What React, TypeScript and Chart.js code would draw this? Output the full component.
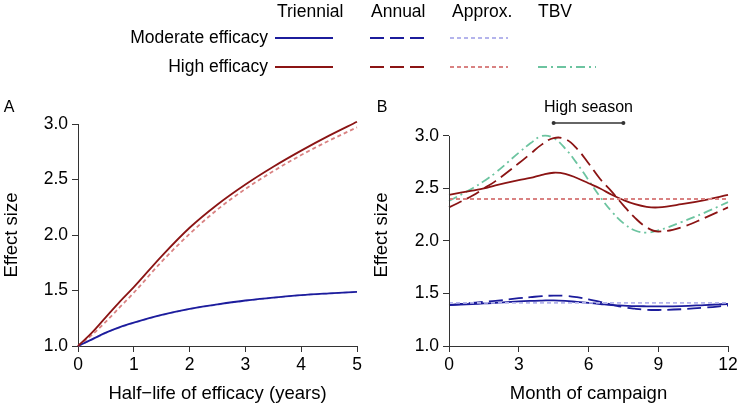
import React, { useEffect, useRef } from "react";
import { Chart, registerables } from "chart.js";

Chart.register(...registerables);

const FONT = "'Liberation Sans', Arial, Helvetica, sans-serif";
const DARK_RED = "#8b1414";
const DARK_BLUE = "#1c1c9c";
const LIGHT_RED = "#d98282";
const LIGHT_BLUE = "#b4b4ec";
const GREEN = "#6cc4a0";
const AXIS = "#333333";

// ---- Panel A data ----
const halfLifeYears = [0, 0.25, 0.5, 0.75, 1, 1.5, 2, 2.5, 3, 3.5, 4, 4.5, 5];
const highTriennialA = [1.0, 1.12, 1.26, 1.4, 1.53, 1.81, 2.065, 2.275, 2.455, 2.615, 2.76, 2.895, 3.02];
const highApproxA = [1.0, 1.1, 1.22, 1.35, 1.48, 1.76, 2.01, 2.23, 2.415, 2.575, 2.72, 2.85, 2.97];
const moderateTriennialA = [1.0, 1.06, 1.12, 1.17, 1.21, 1.28, 1.335, 1.375, 1.41, 1.435, 1.458, 1.474, 1.488];
const moderateApproxA = [1.0, 1.058, 1.118, 1.168, 1.208, 1.278, 1.333, 1.373, 1.408, 1.434, 1.457, 1.473, 1.487];

// ---- Panel B data ----
const months = [0, 1, 1.5, 2, 3, 3.5, 4, 4.5, 5, 5.5, 6, 6.5, 7, 7.5, 8, 8.5, 9, 10, 11, 12];
const highTriennialB = [2.44, 2.48, 2.5, 2.53, 2.58, 2.6, 2.63, 2.65, 2.64, 2.6, 2.55, 2.5, 2.44, 2.39, 2.35, 2.325, 2.32, 2.35, 2.39, 2.44];
const highAnnualB = [2.32, 2.43, 2.5, 2.57, 2.74, 2.83, 2.92, 2.98, 2.97, 2.88, 2.74, 2.59, 2.47, 2.34, 2.22, 2.13, 2.09, 2.13, 2.22, 2.32];
const highTbvB = [2.38, 2.5, 2.57, 2.65, 2.84, 2.93, 3.0, 2.98, 2.88, 2.74, 2.58, 2.42, 2.28, 2.17, 2.1, 2.08, 2.1, 2.18, 2.27, 2.37];
const moderateTriennialB = [1.39, 1.4, 1.405, 1.41, 1.425, 1.43, 1.433, 1.435, 1.43, 1.42, 1.41, 1.4, 1.39, 1.385, 1.38, 1.378, 1.377, 1.38, 1.39, 1.4];
const moderateAnnualB = [1.39, 1.41, 1.42, 1.43, 1.455, 1.465, 1.475, 1.48, 1.478, 1.465, 1.445, 1.42, 1.395, 1.37, 1.355, 1.345, 1.343, 1.35, 1.365, 1.385];
const approxMonths = [0, 12];
const highApproxB = [2.4, 2.4];
const moderateApproxB = [1.41, 1.41];
const highSeason = [4.5, 7.5];

// ---- Axis ticks / labels ----
const yTicks = [1.0, 1.5, 2.0, 2.5, 3.0];
const xTicksA = [0, 1, 2, 3, 4, 5];
const xTicksB = [0, 3, 6, 9, 12];
const legendColumns = ["Triennial", "Annual", "Approx.", "TBV"];
const legendRows = ["Moderate efficacy", "High efficacy"];

const DASH_ANNUAL = [14, 6];
const DASH_APPROX = [4, 3];
const DASH_TBV = [9, 4, 2, 4];
const LW = 1.8;

const pts = (xs: number[], ys: number[]) => xs.map((x, i) => ({ x, y: ys[i] }));

const line = (label: string, data: any[], color: string, dash: number[], extra: any = {}) => ({
  label,
  data,
  borderColor: color,
  backgroundColor: color,
  borderWidth: LW,
  borderDash: dash,
  pointRadius: 0,
  fill: false,
  clip: false,
  ...extra,
});

const tickFont = { family: FONT, size: 17.5 };
const titleFont = { family: FONT, size: 18.5 };

function makeScales(xTicks: number[], xTitle: string, yWidth: number, yMax: number, yBorder: boolean) {
  return {
    x: {
      type: "linear",
      min: xTicks[0],
      max: xTicks[xTicks.length - 1],
      afterBuildTicks: (s: any) => {
        s.ticks = xTicks.map((v) => ({ value: v }));
      },
      afterFit: (s: any) => {
        s.height = 61;
      },
      grid: { display: true, drawOnChartArea: false, drawTicks: true, tickLength: 6, color: AXIS, lineWidth: 1 },
      border: { display: true, color: AXIS, width: 1 },
      ticks: { font: tickFont, color: "#000", padding: 3, maxRotation: 0, autoSkip: false, callback: (v: any) => String(v) },
      title: { display: true, text: xTitle, font: titleFont, color: "#000", padding: { top: 0, bottom: 2 } },
    },
    y: {
      type: "linear",
      min: 1,
      max: yMax,
      afterBuildTicks: (s: any) => {
        s.ticks = yTicks.map((v) => ({ value: v }));
      },
      afterFit: (s: any) => {
        s.width = yWidth;
      },
      grid: { display: true, drawOnChartArea: false, drawTicks: true, tickLength: 6, color: AXIS, lineWidth: 1 },
      border: { display: yBorder, color: AXIS, width: 1 },
      ticks: { font: tickFont, color: "#000", padding: 4, autoSkip: false, callback: (v: any) => Number(v).toFixed(1) },
      title: { display: true, text: "Effect size", font: titleFont, color: "#000", padding: { top: 1, bottom: 0 } },
    },
  };
}

function drawSeg(ctx: CanvasRenderingContext2D, x1: number, x2: number, y: number, color: string, dash: number[]) {
  ctx.save();
  ctx.strokeStyle = color;
  ctx.lineWidth = LW;
  ctx.setLineDash(dash);
  ctx.beginPath();
  ctx.moveTo(x1, y);
  ctx.lineTo(x2, y);
  ctx.stroke();
  ctx.restore();
}

const legendPlugin = {
  id: "legendGrid",
  afterDraw(chart: any) {
    const ctx: CanvasRenderingContext2D = chart.ctx;
    ctx.save();
    ctx.fillStyle = "#000";
    ctx.font = `17.5px ${FONT}`;
    ctx.textBaseline = "middle";
    const colX = [277, 371, 452, 538];
    const lineX = [275, 370, 450, 538];
    const rowY = [38, 67];
    ctx.textAlign = "left";
    legendColumns.forEach((t, i) => ctx.fillText(t, colX[i], 12));
    ctx.textAlign = "right";
    legendRows.forEach((t, i) => ctx.fillText(t, 268, rowY[i]));
    ctx.restore();
    const styles = [
      [
        [DARK_BLUE, []],
        [DARK_BLUE, DASH_ANNUAL],
        [LIGHT_BLUE, DASH_APPROX],
        null,
      ],
      [
        [DARK_RED, []],
        [DARK_RED, DASH_ANNUAL],
        [LIGHT_RED, DASH_APPROX],
        [GREEN, DASH_TBV],
      ],
    ] as any[];
    styles.forEach((row, r) =>
      row.forEach((st: any, c: number) => {
        if (!st) return;
        drawSeg(ctx, lineX[c], lineX[c] + 58, rowY[r], st[0], st[1]);
      })
    );
    // Panel label A
    ctx.save();
    ctx.fillStyle = "#000";
    ctx.font = `16px ${FONT}`;
    ctx.textAlign = "center";
    ctx.textBaseline = "middle";
    ctx.fillText("A", 9, 108);
    ctx.restore();
  },
};

const panelBPlugin = {
  id: "panelB",
  afterDraw(chart: any) {
    const ctx: CanvasRenderingContext2D = chart.ctx;
    const xs = chart.scales.x;
    const ys = chart.scales.y;
    ctx.save();
    // y axis line from 1.0 to 3.0
    ctx.strokeStyle = AXIS;
    ctx.lineWidth = 1;
    const ax = Math.round(chart.chartArea.left) + 0.5;
    ctx.beginPath();
    ctx.moveTo(ax, ys.getPixelForValue(yTicks[0]));
    ctx.lineTo(ax, ys.getPixelForValue(yTicks[yTicks.length - 1]));
    ctx.stroke();
    // labels
    ctx.fillStyle = "#000";
    ctx.font = `16px ${FONT}`;
    ctx.textAlign = "center";
    ctx.textBaseline = "middle";
    ctx.fillText("B", 12, 108);
    const x1 = xs.getPixelForValue(highSeason[0]);
    const x2 = xs.getPixelForValue(highSeason[1]);
    ctx.fillText("High season", (x1 + x2) / 2, 108);
    ctx.lineWidth = 1.5;
    ctx.beginPath();
    ctx.moveTo(x1, 123);
    ctx.lineTo(x2, 123);
    ctx.stroke();
    ctx.fillStyle = AXIS;
    [x1, x2].forEach((x) => {
      ctx.beginPath();
      ctx.arc(x, 123, 2, 0, Math.PI * 2);
      ctx.fill();
    });
    ctx.restore();
  },
};

export default function App() {
  const refA = useRef<HTMLCanvasElement>(null);
  const refB = useRef<HTMLCanvasElement>(null);

  useEffect(() => {
    const chartA = new Chart(refA.current as HTMLCanvasElement, {
      type: "line",
      data: {
        datasets: [
          line("High triennial", pts(halfLifeYears, highTriennialA), DARK_RED, [], { cubicInterpolationMode: "monotone" }),
          line("Moderate triennial", pts(halfLifeYears, moderateTriennialA), DARK_BLUE, [], { cubicInterpolationMode: "monotone" }),
          line("High approx", pts(halfLifeYears, highApproxA), LIGHT_RED, DASH_APPROX, { cubicInterpolationMode: "monotone" }),
          line("Moderate approx", pts(halfLifeYears, moderateApproxA), LIGHT_BLUE, DASH_APPROX, { cubicInterpolationMode: "monotone" }),
        ],
      },
      options: {
        responsive: false,
        animation: false,
        devicePixelRatio: 1,
        layout: { padding: { left: 0, top: 124, right: 385, bottom: 0 } },
        plugins: { legend: { display: false }, tooltip: { enabled: false } },
        scales: makeScales(xTicksA, "Half\u2212life of efficacy (years)", 78, 3, true) as any,
      },
      plugins: [legendPlugin],
    });

    const chartB = new Chart(refB.current as HTMLCanvasElement, {
      type: "line",
      data: {
        datasets: [
          line("High approx", pts(approxMonths, highApproxB), LIGHT_RED, DASH_APPROX, { tension: 0 }),
          line("Moderate approx", pts(approxMonths, moderateApproxB), LIGHT_BLUE, DASH_APPROX, { tension: 0 }),
          line("High triennial", pts(months, highTriennialB), DARK_RED, [], { tension: 0.4 }),
          line("High annual", pts(months, highAnnualB), DARK_RED, DASH_ANNUAL, { tension: 0.4 }),
          line("High TBV", pts(months, highTbvB), GREEN, DASH_TBV, { tension: 0.4 }),
          line("Moderate triennial", pts(months, moderateTriennialB), DARK_BLUE, [], { tension: 0.4 }),
          line("Moderate annual", pts(months, moderateAnnualB), DARK_BLUE, DASH_ANNUAL, { tension: 0.4 }),
        ],
      },
      options: {
        responsive: false,
        animation: false,
        devicePixelRatio: 1,
        layout: { padding: { left: 0, top: 124, right: 14, bottom: 0 } },
        plugins: { legend: { display: false }, tooltip: { enabled: false } },
        scales: makeScales(xTicksB, "Month of campaign", 79, 3.114, false) as any,
      },
      plugins: [panelBPlugin],
    });

    return () => {
      chartA.destroy();
      chartB.destroy();
    };
  }, []);

  return (
    <div style={{ position: "fixed", left: 0, top: 0, width: 742, height: 407, background: "#fff" }}>
      <canvas ref={refA} width={742} height={407} style={{ position: "absolute", left: 0, top: 0, display: "block" }} />
      <canvas ref={refB} width={372} height={407} style={{ position: "absolute", left: 370, top: 0, display: "block" }} />
    </div>
  );
}
